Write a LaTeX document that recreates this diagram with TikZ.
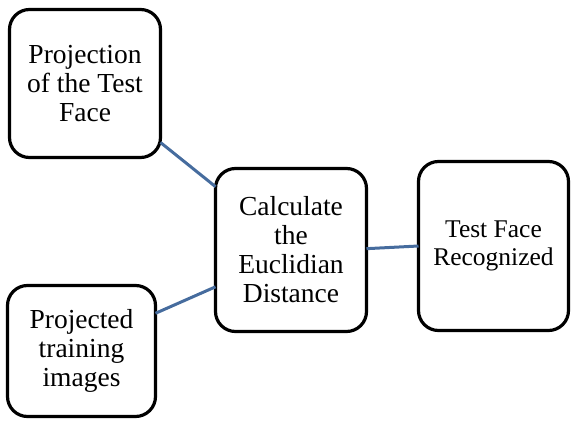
\documentclass[tikz,border=0pt]{standalone}
\usepackage{fontspec}
\setmainfont{Liberation Serif}
\definecolor{linkblue}{RGB}{70,108,158}
\begin{document}
\begin{tikzpicture}[x=1pt,y=-1pt,
  stepbox/.style={draw=black, line width=3.2pt, fill=white, rounded corners=20pt,
    align=center, inner sep=0pt, outer sep=0pt,
    font=\fontsize{27.5}{29}\selectfont},
  link/.style={draw=linkblue, line width=3pt}]
  \useasboundingbox (0,0) rectangle (571,422);
  % boxes
  \node[stepbox, minimum width=151pt, minimum height=148pt] (b1) at (85,83.5)
    {Projection\\of the Test\\Face};
  \node[stepbox, minimum width=148pt, minimum height=131pt] (b2) at (81.5,351)
    {Projected\\training\\images};
  \node[stepbox, minimum width=151pt, minimum height=163pt] (b3) at (291,250)
    {Calculate\\the\\Euclidian\\Distance};
  \node[stepbox, minimum width=150pt, minimum height=169pt,
    font=\fontsize{25.5}{27.5}\selectfont] (b4) at (493.5,246)
    {Test Face\\Recognized};
  % connectors between the box borders
  \path (b1.-38) coordinate (p1) (b3.140) coordinate (q1)
        (b2.27) coordinate (p2) (b3.206) coordinate (q2)
        (b3.1) coordinate (p3) (b4.180.5) coordinate (q3);
  \draw[link] (p1) -- (q1);
  \draw[link] (p2) -- (q2);
  \draw[link] (p3) -- (q3);
\end{tikzpicture}
\end{document}
